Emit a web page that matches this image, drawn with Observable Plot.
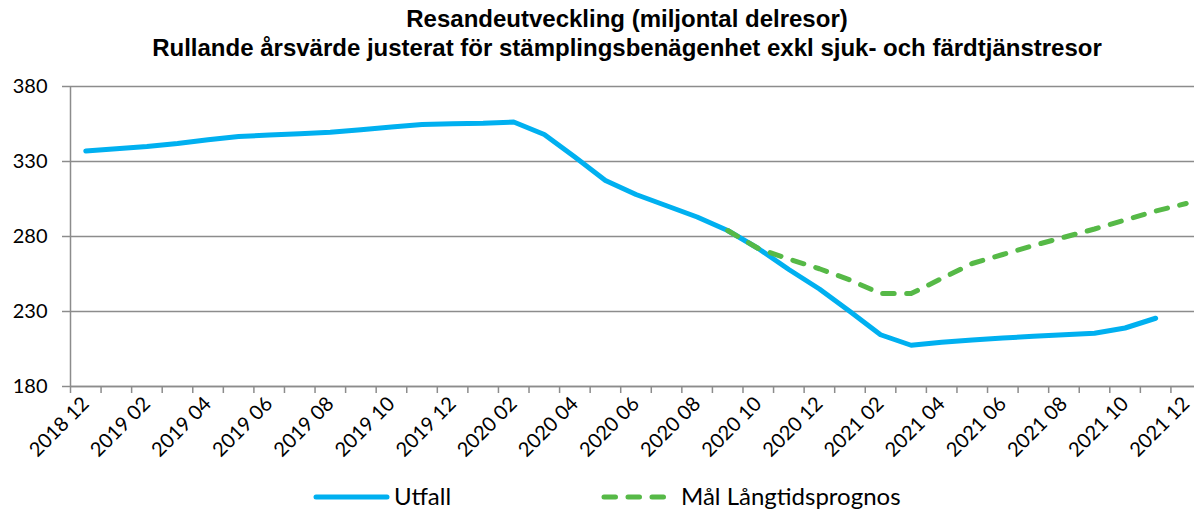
<!DOCTYPE html>
<html>
<head>
<meta charset="utf-8">
<script src="https://cdn.jsdelivr.net/npm/d3@7"></script>
<script src="https://cdn.jsdelivr.net/npm/@observablehq/plot@0.6"></script>
<style>
  html, body { margin: 0; padding: 0; background: #fff; }
  body { width: 1194px; height: 511px; overflow: hidden; position: relative; }
  #title { font-family: "Liberation Sans", Arial, sans-serif; font-weight: bold; font-size: 24px;
           line-height: 29px; text-align: center; margin-left: 60px; height: 62px;
           padding-top: 4px; box-sizing: border-box; color: #000; }
  #chart svg { display: block; overflow: hidden; }
  #legend { position: relative; height: 33px; font-family: Lato, sans-serif; font-size: 24px; color: #000; }
  .sw { position: absolute; top: 14px; }
  .lt { position: absolute; top: 4px; line-height: 28px; white-space: nowrap; }
</style>
</head>
<body>
<div id="title">Resandeutveckling (miljontal delresor)<br>Rullande årsvärde justerat för stämplingsbenägenhet exkl sjuk- och färdtjänstresor</div>
<div id="chart"></div>
<div id="legend"></div>
<script>
// Category labels (months)
const months = ["2018 12","2019 01","2019 02","2019 03","2019 04","2019 05","2019 06","2019 07","2019 08","2019 09","2019 10","2019 11",
  "2019 12","2020 01","2020 02","2020 03","2020 04","2020 05","2020 06","2020 07","2020 08","2020 09","2020 10","2020 11",
  "2020 12","2021 01","2021 02","2021 03","2021 04","2021 05","2021 06","2021 07","2021 08","2021 09","2021 10","2021 11","2021 12"];

// Utfall: 2018 12 .. 2021 11
const utfallMonths = months.slice(0, 36);
const utfall = [337, 338.5, 340, 342, 344.5, 346.7, 347.6, 348.5, 349.5, 351.2, 353, 354.6,
  355.2, 355.5, 356.3, 348, 333, 317.3, 308, 300.5, 293, 284, 272, 258,
  245, 230, 214.5, 207.5, 209.5, 211, 212.3, 213.5, 214.5, 215.5, 219, 225.5];

// Mål Långtidsprognos: 2020 09 .. 2021 12
const maalMonths = months.slice(21);
const maal = [284, 272, 265, 258.5, 251, 242, 242, 252, 262, 268, 274, 279.5, 285, 291, 297, 302];

const yTicks = [180, 230, 280, 330, 380];
const labelMonths = months.filter((m, i) => i % 2 === 0);

const seriesNames = ["Utfall", "Mål Långtidsprognos"];
const colors = ["#00B0F0", "#56B947"];

const idx = m => months.indexOf(m);
const utfallData = utfallMonths.map((m, i) => ({i: idx(m), v: utfall[i]}));
const maalData = maalMonths.map((m, i) => ({i: idx(m), v: maal[i]}));
const boundaries = d3.range(months.length + 1).map(i => i - 0.5);

const axisColor = "#8c8c8c";

const chart = Plot.plot({
  width: 1194,
  height: 416,
  marginTop: 24,
  marginBottom: 92,
  marginLeft: 70,
  marginRight: -7,
  x: {type: "linear", domain: [-0.5, months.length - 0.5]},
  y: {domain: [180, 380]},
  style: {fontFamily: "Lato, sans-serif", fontSize: "20px", color: "#000", background: "transparent"},
  marks: [
    Plot.gridY(yTicks, {stroke: axisColor, strokeOpacity: 1, strokeWidth: 1.5}),
    Plot.axisY(yTicks, {tickSize: 8, tickPadding: 15, stroke: axisColor, strokeWidth: 1.5, label: null, fill: "#000"}),
    Plot.ruleX([-0.5], {stroke: axisColor, strokeWidth: 1.5}),
    Plot.ruleY([180], {stroke: axisColor, strokeWidth: 1.5}),
    Plot.axisX(boundaries, {tickSize: 7, tickFormat: () => "", stroke: axisColor, strokeWidth: 1.5, label: null}),
    Plot.axisX(labelMonths.map(idx), {tickSize: 0, tickPadding: 14, tickRotate: -45, tickFormat: i => months[i], label: null, fill: "#000"}),
    Plot.line(utfallData, {x: "i", y: "v", stroke: colors[0], strokeWidth: 5, strokeLinecap: "round", strokeLinejoin: "round"}),
    Plot.line(maalData, {x: "i", y: "v", stroke: colors[1], strokeWidth: 5, strokeLinecap: "round", strokeLinejoin: "round", strokeDasharray: "11.5,12.5"})
  ]
});
document.getElementById("chart").appendChild(chart);

// Legend
const legend = document.getElementById("legend");
legend.innerHTML = `
  <svg class="sw" style="left:313px" width="78" height="10"><line x1="3" y1="5" x2="74" y2="5" stroke="${colors[0]}" stroke-width="5" stroke-linecap="round"/></svg>
  <span class="lt" style="left:394px">${seriesNames[0]}</span>
  <svg class="sw" style="left:601px" width="70" height="10"><line x1="3" y1="5" x2="66" y2="5" stroke="${colors[1]}" stroke-width="5" stroke-linecap="round" stroke-dasharray="11.5,12.5"/></svg>
  <span class="lt" style="left:681px">${seriesNames[1]}</span>`;
</script>
</body>
</html>
